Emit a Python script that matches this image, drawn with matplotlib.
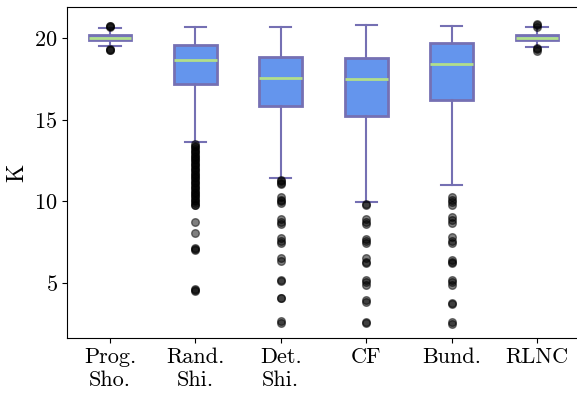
import matplotlib
matplotlib.use("Agg")
import matplotlib.pyplot as plt

plt.rcParams['font.family'] = 'cmr10'
plt.rcParams['mathtext.fontset'] = 'cm'
plt.rcParams['axes.formatter.use_mathtext'] = True

labels = ["Prog.\nSho.", "Rand.\nShi.", "Det.\nShi.", "CF", "Bund.", "RLNC"]

# box statistics
medians = [20.02, 18.65, 17.55, 17.47, 18.43, 20.02]
q1s = [19.88, 17.18, 15.85, 15.22, 16.20, 19.85]
q3s = [20.20, 19.55, 18.86, 18.80, 19.71, 20.20]
whis_lo = [19.49, 13.61, 11.43, 9.94, 11.02, 19.45]
whis_hi = [20.63, 20.69, 20.69, 20.80, 20.73, 20.69]

fliers_prog = [20.75, 20.72, 20.68, 19.33, 19.28, 19.25]
fliers_rand = [13.5, 13.4, 13.3, 13.2, 13.1, 13.0, 12.9, 12.8, 12.7, 12.6,
               12.5, 12.4, 12.3, 12.2, 12.1, 12.0, 11.9, 11.8, 11.7, 11.6,
               11.5, 11.4, 11.3, 11.2, 11.1, 11.0, 10.9, 10.8, 10.7, 10.6,
               10.5, 10.4, 10.3, 10.2, 10.1, 10.0, 9.9, 9.8, 9.75,
               8.75, 8.05, 7.12, 7.05, 7.0, 4.65, 4.6, 4.5]
fliers_det = [11.3, 11.25, 11.15, 11.05, 10.25, 10.1, 10.0, 9.9, 8.9, 8.75,
              8.6, 7.75, 7.6, 7.45, 6.5, 6.35, 5.2, 5.1, 4.1, 4.05, 2.7, 2.55]
fliers_cf = [9.83, 9.8, 8.9, 8.75, 8.6, 7.7, 7.55, 7.45, 6.5, 6.3, 6.2,
             5.2, 5.05, 4.9, 3.95, 3.85, 2.6, 2.55]
fliers_bund = [10.28, 10.1, 9.95, 9.76, 9.04, 8.85, 8.67, 7.8, 7.6, 7.45,
               6.4, 6.3, 6.2, 5.2, 5.05, 4.9, 3.8, 3.7, 2.6, 2.5]
fliers_rlnc = [20.86, 20.8, 20.7, 19.4, 19.3, 19.22]
fliers = [fliers_prog, fliers_rand, fliers_det, fliers_cf, fliers_bund, fliers_rlnc]

stats = []
for i in range(len(labels)):
    stats.append(dict(med=medians[i], q1=q1s[i], q3=q3s[i],
                      whislo=whis_lo[i], whishi=whis_hi[i],
                      fliers=fliers[i], label=labels[i]))

fig = plt.figure(figsize=(5.77, 3.93), dpi=100)
ax = fig.add_axes([67.3 / 577, 55 / 393, 512.4 / 577, 331 / 393])

edge = '#7570b3'
bp = ax.bxp(stats, widths=0.5, patch_artist=True,
            boxprops=dict(facecolor='#6495ed', edgecolor=edge, linewidth=2),
            medianprops=dict(color='#b2df8a', linewidth=2),
            whiskerprops=dict(color=edge, linewidth=1.5),
            capprops=dict(color=edge, linewidth=1.5),
            flierprops=dict(marker='o', markerfacecolor='black',
                            markeredgecolor='black', markersize=5.5, alpha=0.5))

ax.set_xlim(0.5, 6.5)
ax.set_ylim(1.63, 21.9)
ax.set_yticks([5, 10, 15, 20])
ax.set_ylabel("K", fontsize=17)
ax.tick_params(labelsize=16)

fig.savefig("out.png", dpi=100)
